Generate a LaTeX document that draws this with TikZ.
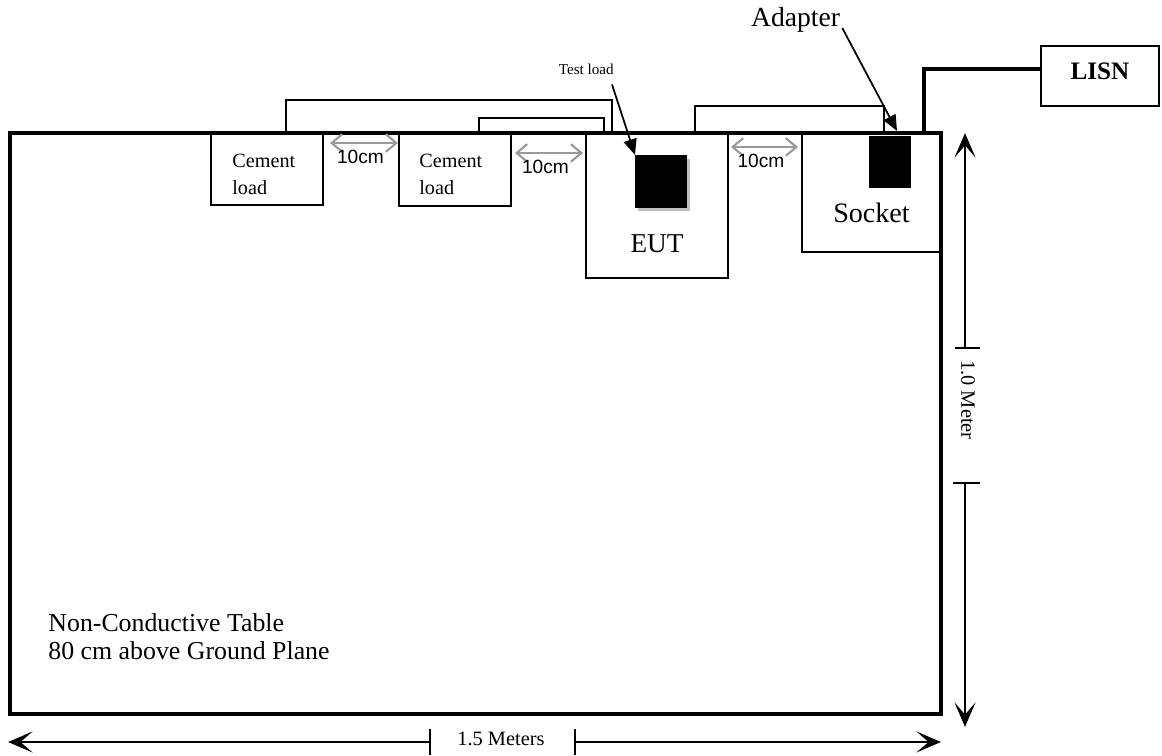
\documentclass[tikz,border=0pt]{standalone}
\usepackage{fontspec}
\setmainfont{Liberation Serif}
\setsansfont{Liberation Sans}
\usepackage{tikz}
\usetikzlibrary{arrows.meta,calc,shadows,positioning}
\tikzset{
	benchtop/.style={draw, line width=2pt, inner sep=0pt, outer sep=0pt, minimum width=18.62cm, minimum height=11.62cm},
	device/.style={draw, line width=1.1pt, inner sep=0pt, outer sep=0pt},
	plug/.style={fill=black, inner sep=0pt, outer sep=0pt},
	cable/.style={line width=1pt},
	mains/.style={line width=2.2pt},
	gaparrow/.style={draw=black!40, line width=1.2pt, {Straight Barb[length=6pt,width=10pt]}-{Straight Barb[length=6pt,width=10pt]}},
	gaplbl/.style={anchor=base, inner sep=0pt, font=\sffamily\fontsize{10.9}{13}\selectfont, xshift=-0.07cm, yshift=-0.42cm},
	dimline/.style={line width=1pt, -{Stealth[length=14pt,width=12pt,inset=7pt]}},
	dimlbl/.style={inner sep=0pt, font=\fontsize{11.6}{14}\selectfont},
	pointer/.style={line width=1pt, -{Triangle[length=9pt,width=7.5pt]}},
	txt/.style={inner sep=0pt}
}
\newcommand{\connectcable}[4]{
	\draw[#1] (#2) -- ++(0,#4) -| (#3);
}

\begin{document}
\begin{tikzpicture}[x=0.02cm, y=-0.02cm]
	\useasboundingbox (0,0) rectangle (1162,756);

	% Table and the units on it
	\node[benchtop] (table) at (475.5,423.5) {};
	\node[device, minimum width=2.24cm, minimum height=1.44cm] (cement1) at (267,169) {};
	\node[device, minimum width=2.24cm, minimum height=1.44cm] (cement2) at (455,170) {};
	\node[device, minimum width=2.84cm, minimum height=2.9cm] (eut) at (657,205.5) {};
	\node[device, minimum width=2.78cm, minimum height=2.38cm] (socket) at (871.5,192.5) {};
	\node[device, minimum width=2.36cm, minimum height=1.2cm, text depth=6pt,
		font=\bfseries\fontsize{14.3}{17}\selectfont] (lisn) at (1100,76) {LISN};

	\node[plug, minimum width=1.04cm, minimum height=1.06cm,
		drop shadow={shadow xshift=0.06cm, shadow yshift=-0.07cm, fill=black!25, opacity=1}] (tload) at (661,181.5) {};
	\node[plug, minimum width=0.84cm, minimum height=1.04cm] (adapter) at (890,162) {};

	% texts
	\node[txt, anchor=base west, font=\fontsize{11.5}{15.8}\selectfont] (cement1-txt)
		at ($(cement1.north west)+(21,34)$) {\begin{tabular}[t]{@{}l@{}} Cement \\ load \end{tabular}};
	\node[txt, anchor=base west, font=\fontsize{11.5}{15.8}\selectfont] (cement2-txt)
		at ($(cement2.north west)+(20,33)$) {\begin{tabular}[t]{@{}l@{}} Cement \\ load \end{tabular}};
	\node[txt, anchor=base, font=\fontsize{15.5}{18}\selectfont] (eut-txt) at ($(eut.south)+(0,-25)$) {EUT};
	\node[txt, anchor=base, font=\fontsize{16}{19}\selectfont] (socket-txt) at ($(socket.south)+(0,-29)$) {Socket};
	\node[txt, anchor=base west, font=\fontsize{14.7}{15.6}\selectfont] (table-txt)
		at ($(table.south west)+(38,-82)$) {\begin{tabular}[t]{@{}l@{}} Non-Conductive Table \\ 80 cm above Ground Plane \end{tabular}};

	% pointers
	\node[txt, anchor=base east, font=\fontsize{8.6}{10}\selectfont] (tload-txt) at (614,75) {Test load};
	\node[txt, anchor=base, font=\fontsize{15.7}{18}\selectfont] (adapter-txt) at (795.5,27) {Adapter};
	\draw[pointer] ($(tload-txt.south east)+(-2,9)$) -- (tload.north west);
	\draw[pointer] ($(adapter-txt.base east)+(2,1)$) -- ($(adapter.north)+(7,-5)$);

	% cables
	\coordinate (c1out) at ($(cement1.north west)+(75,0)$);
	\coordinate (c2out) at ($(cement2.north west)+(80,-1)$);
	\coordinate (eutin1) at ($(eut.north west)+(26,0)$);
	\coordinate (eutin2) at ($(eut.north west)+(18,0)$);
	\coordinate (eutout) at ($(eut.north west)+(109,0)$);
	\coordinate (sockin) at ($(socket.north west)+(82,0)$);
	\coordinate (sockout) at ($(socket.north east)+(-17,0)$);

	\connectcable{cable}{c1out}{eutin1}{-33};
	\connectcable{cable}{c2out}{eutin2}{-15};
	\connectcable{cable}{eutout}{sockin}{-27};
	\draw[mains] (sockout) |- ($(lisn.west)+(0,-7)$);

	% 10cm spacings
	\draw[gaparrow] ($(cement1.east)+(7,-26)$) -- ($(cement2.west)+(-1,-27)$) node[gaplbl, midway] {10cm};
	\draw[gaparrow] ($(cement2.east)+(4,-17)$) -- ($(eut.west)+(-3,-52.5)$) node[gaplbl, midway] {10cm};
	\draw[gaparrow] ($(eut.east)+(3,-58.5)$) -- ($(socket.west)+(-4,-45.5)$) node[gaplbl, midway] {10cm};

	% table dimensions
	\node[dimlbl, rotate=-90] (height-txt) at (968,400) {1.0 Meter};
	\coordinate (htop) at (965,348);
	\coordinate (hbot) at (965,483);
	\draw[dimline] (htop) -- (htop |- table.north);
	\draw[dimline] (hbot) -- ($(hbot |- table.south)+(0,13)$);
	\draw[line width=1pt] ($(htop)+(-10,0)$) -- ($(htop)+(15,0)$);
	\draw[line width=1pt] ($(hbot)+(-12,0)$) -- ($(hbot)+(15,0)$);

	\node[dimlbl, anchor=base] (width-txt) at (501,745) {1.5 Meters};
	\coordinate (wleft) at (430,742);
	\coordinate (wright) at (575,742);
	\draw[dimline] (wleft) -- ($(wleft -| table.west)+(-2,0)$);
	\draw[dimline] (wright) -- (wright -| table.east);
	\draw[line width=1pt] ($(wleft)+(0,-13)$) -- ($(wleft)+(0,13)$);
	\draw[line width=1pt] ($(wright)+(0,-13)$) -- ($(wright)+(0,13)$);
\end{tikzpicture}
\end{document}
